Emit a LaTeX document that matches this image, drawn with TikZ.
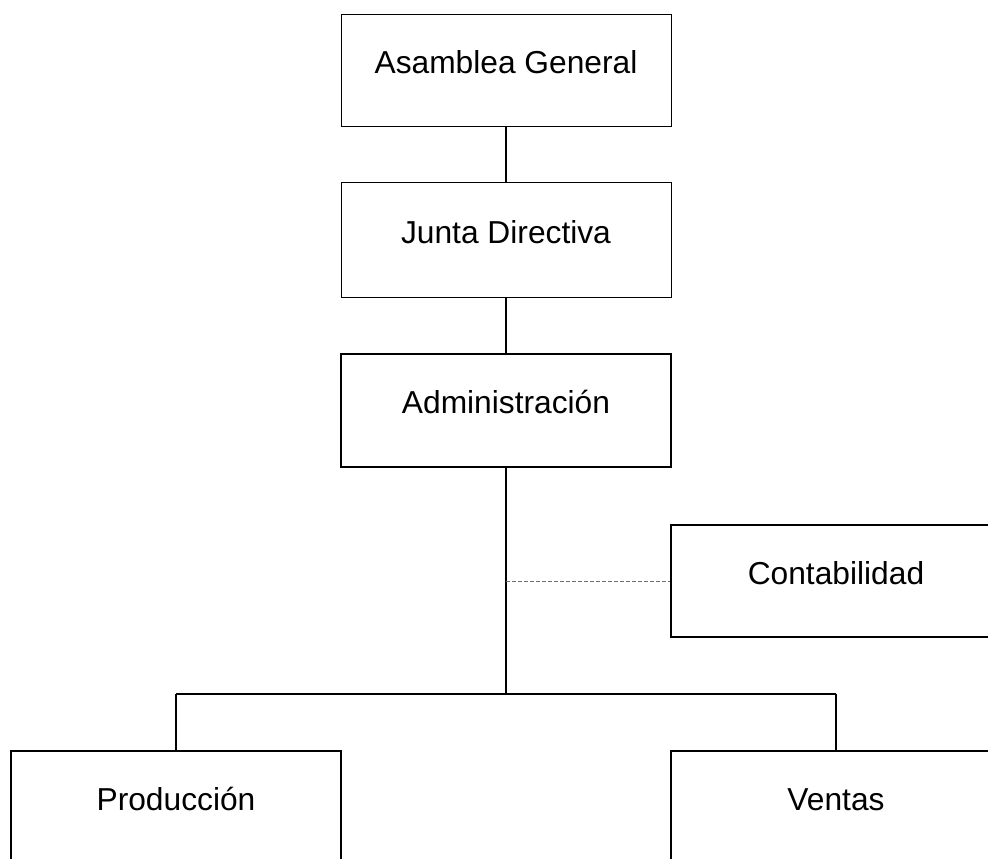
\documentclass[tikz,border=0pt]{standalone}
\usepackage{fontspec}
\setmainfont{Liberation Sans}

\tikzset{every picture/.style={line width=0.5pt}}
\tikzset{
  orgbox/.style={draw, rectangle, minimum width=247.5pt, minimum height=84pt, inner sep=0pt,
    text height=17pt, text depth=12pt, font=\fontsize{23.8}{28}\selectfont},
  thinbox/.style={orgbox, line width=0.75pt},
  thickbox/.style={orgbox, line width=1.5pt},
  conn/.style={line width=1.5pt},
  dotconn/.style={line width=0.75pt, draw={rgb,255:red,110;green,110;blue,110}, dash pattern=on 3pt off 1.5pt}
}

\begin{document}
\begin{tikzpicture}[x=0.75pt,y=0.75pt,yscale=-1,xscale=1]
%set diagram to the page: 988 x 859
\clip (0,0) rectangle (988,859);

%Shape: Rectangle [id:asamblea]
\node[thinbox] (asamblea) at (506,70.5) {Asamblea General};
%Shape: Rectangle [id:junta]
\node[thinbox, minimum height=85.5pt] (junta) at (506,240) {Junta Directiva};
%Shape: Rectangle [id:admin]
\node[thickbox, minimum height=84.75pt] (admin) at (506,410.5) {Administración};
%Shape: Rectangle [id:contab]
\node[thickbox] (contab) at (836,581) {Contabilidad};
%Shape: Rectangle [id:prod]
\node[thickbox, minimum height=84.75pt] (prod) at (176,807.5) {Producción};
%Shape: Rectangle [id:ventas]
\node[thickbox, minimum height=84.75pt] (ventas) at (836,807.5) {Ventas};

%Straight Lines [id:bus]
\coordinate (bus) at (506,694);
\draw[conn] (asamblea.south) -- (junta.north);
\draw[conn] (junta.south) -- (admin.north);
\draw[conn] (admin.south) -- (bus);
\draw[conn] (prod.north |- bus) -- (ventas.north |- bus);
\draw[conn] (prod.north |- bus) -- (prod.north);
\draw[conn] (ventas.north |- bus) -- (ventas.north);

%Straight Lines [id:staff]
\draw[dotconn] (admin.south |- contab.west) -- (contab.west);

\end{tikzpicture}
\end{document}
